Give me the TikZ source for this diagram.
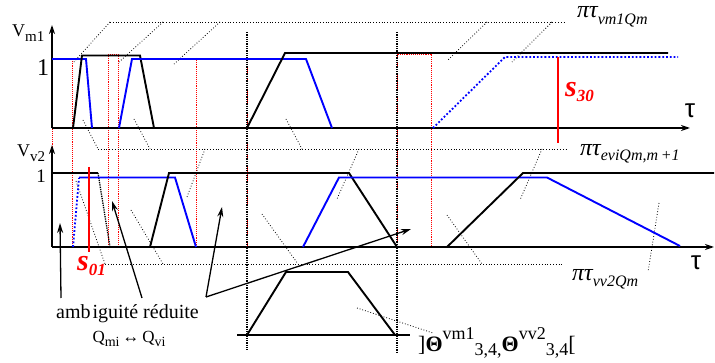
\documentclass[tikz,border=0pt]{standalone}
\usepackage{fontspec}
\setmainfont{Liberation Serif}
\newfontfamily\sansf{Liberation Sans}
\usetikzlibrary{arrows.meta}
\newcommand\lowsub[2]{\raisebox{-#1}{#2}}
\tikzset{
  curve/.style={line width=1.9pt, line join=miter},
  bl/.style={curve, black},
  bu/.style={curve, blue},
  budot/.style={blue, line width=1.8pt, dotted},
  bldot/.style={black, line width=1.3pt, densely dotted},
  axis/.style={line width=1.5pt, -{Stealth[length=9pt,width=6pt]}},
  proj/.style={black, line width=0.8pt, dotted},
  rdot/.style={red, line width=0.9pt, densely dotted},
  vdot/.style={black, line width=1.3pt, densely dotted},
  sig/.style={red, line width=2.6pt},
  ptr/.style={line width=1.3pt, -{Stealth[length=10pt,width=6pt]}},
  lab/.style={inner sep=0pt, anchor=base west},
  ptlab/.style={lab, font=\itshape\fontsize{24}{26}\selectfont},
  slab/.style={lab, red, font=\bfseries\itshape\fontsize{30}{32}\selectfont},
}
\begin{document}
\begin{tikzpicture}[x=1pt,y=-1pt]
\useasboundingbox (0,0) rectangle (715,363);

% red dotted windows
\draw[rdot] (52,59) rectangle (72,247);
\draw[rdot] (108,54) rectangle (118,247);
\draw[rdot] (196,58) rectangle (247,247);
\draw[rdot] (397,54) rectangle (431,247);

% black dotted verticals
\draw[vdot] (247,32) -- (247,350);
\draw[vdot] (397,32) -- (397,353);

% projection lines (top)
\draw[proj] (110,22) -- (566,22);
\draw[proj] (110,22) -- (73,63);
\draw[proj] (163,22) -- (118,63);
\draw[proj] (220,22) -- (173,65);
\draw[proj] (487,22) -- (448,60);
\draw[proj] (552,22) -- (512,62);
% projection lines (middle)
\draw[proj] (98,149) -- (568,149);
\draw[proj] (83,120) -- (98,149);
\draw[proj] (134,119) -- (150,149);
\draw[proj] (286,119) -- (302,149);
\draw[proj] (205,149) -- (187,197);
\draw[proj] (359,149) -- (337,199);
\draw[proj] (542,149) -- (520,200);
% projection lines (bottom)
\draw[proj] (105,264) -- (563,264);
\draw[proj] (76,181) -- (105,264);
\draw[proj] (131,210) -- (163,264);
\draw[proj] (262,214) -- (298,264);
\draw[proj] (447,215) -- (482,264);
% dotted pointers
\draw[proj] (659,203) -- (648,272);
\draw[proj] (357,308) -- (433,333);

% axes
\draw[axis] (52,128) -- (52,25);
\draw[axis] (52,128) -- (690,128);
\draw[axis] (52,247) -- (52,145);
\draw[axis] (52,247) -- (714,247);

% top graph curves
\draw[bu] (52,59) -- (86,59) -- (92,128);
\draw[bl] (73,128) -- (82,55.5) -- (140,55.5) -- (154,128);
\draw[bu] (119,128) -- (132,59) -- (306,59) -- (332,128);
\draw[bl] (247,128) -- (285,53) -- (668,53);
\draw[budot] (433,128) -- (505,57) -- (678,57);
\draw[sig] (558,57) -- (558,143);

% lower graph curves
\draw[bl] (52,173) -- (98,173);
\draw[bldot] (98,173) -- (110,247);
\draw[budot] (73,247) -- (79,178);
\draw[bu] (79,177.5) -- (175,177.5) -- (196,247);
\draw[bl] (150,247) -- (169,173) -- (349,173) -- (397,247);
\draw[bu] (303,247) -- (339,177.5) -- (547,177.5) -- (680,246);
\draw[bl] (447,247) -- (523,173) -- (714,173);
\draw[sig] (89,167) -- (89,252);

% bottom trapezoid
\draw[bl] (237,335) -- (410,335);
\draw[bl] (247,335) -- (286,272) -- (348,272) -- (395,335);

% axis labels
\node[lab, font=\fontsize{18}{20}\selectfont] (vm) at (12,37) {V\lowsub{5pt}{\fontsize{15}{16}\selectfont m1}};
\node[lab, font=\fontsize{18}{20}\selectfont] (vv) at (17,157) {V\lowsub{5pt}{\fontsize{15}{16}\selectfont v2}};
\node[inner sep=0pt, anchor=base, font=\fontsize{24}{26}\selectfont] (one1) at (43,76) {1};
\node[inner sep=0pt, anchor=base, font=\fontsize{19}{20}\selectfont] (one2) at (41,183) {1};
\node[inner sep=0pt, anchor=base, font=\sansf\fontsize{26}{28}\selectfont] (tau1) at (690,118) {τ};
\node[inner sep=0pt, anchor=base, font=\sansf\fontsize{26}{28}\selectfont] (tau2) at (696,270) {τ};

% signal labels
\node[slab] (s30) at (565,97) {s\lowsub{5pt}{\fontsize{17}{18}\selectfont 30}};
\node[slab] (s01) at (77,271) {s\lowsub{5pt}{\fontsize{17}{18}\selectfont 01}};

% pi tau labels
\node[ptlab] (p1) at (577,18) {πτ\lowsub{7pt}{\fontsize{16}{17}\selectfont vm1Qm}};
\node[ptlab] (p2) at (580,156) {πτ\lowsub{5pt}{\fontsize{16}{17}\selectfont eviQm,m\,+1}};
\node[ptlab] (p3) at (572,281) {πτ\lowsub{6pt}{\fontsize{16}{17}\selectfont vv2Qm}};

% theta label
\node[lab, font=\fontsize{22}{24}\selectfont] (th) at (418,352)
  {]\textbf{Θ}\raisebox{12pt}{\fontsize{18}{19}\selectfont vm1}\lowsub{4pt}{\fontsize{18}{19}\selectfont 3,4,}\textbf{Θ}\raisebox{12pt}{\fontsize{18}{19}\selectfont vv2}\lowsub{4pt}{\fontsize{18}{19}\selectfont 3,4}[};

% ambiguity text and arrows
\node[inner sep=0pt, anchor=base, font=\fontsize{20}{22}\selectfont] (amb) at (127.5,319) {amb\kern2pt iguité réduite};
\node[inner sep=0pt, anchor=base, font=\fontsize{17}{19}\selectfont] (qq) at (129,343) {Q\lowsub{3pt}{\fontsize{14}{15}\selectfont mi}\,↔\,Q\lowsub{3pt}{\fontsize{14}{15}\selectfont vi}};
\coordinate (a1) at (61,298);
\coordinate (a2) at (142,298);
\coordinate (a3) at (206,297);
\coordinate (t1) at (60,223);
\coordinate (t2) at (112,201);
\coordinate (t3) at (222,207);
\coordinate (t4) at (411,229);
\draw[ptr] (a1) -- (t1);
\draw[ptr] (a2) -- (t2);
\draw[ptr] (a3) -- (t3);
\draw[ptr] (a3) -- (t4);
\end{tikzpicture}
\end{document}
